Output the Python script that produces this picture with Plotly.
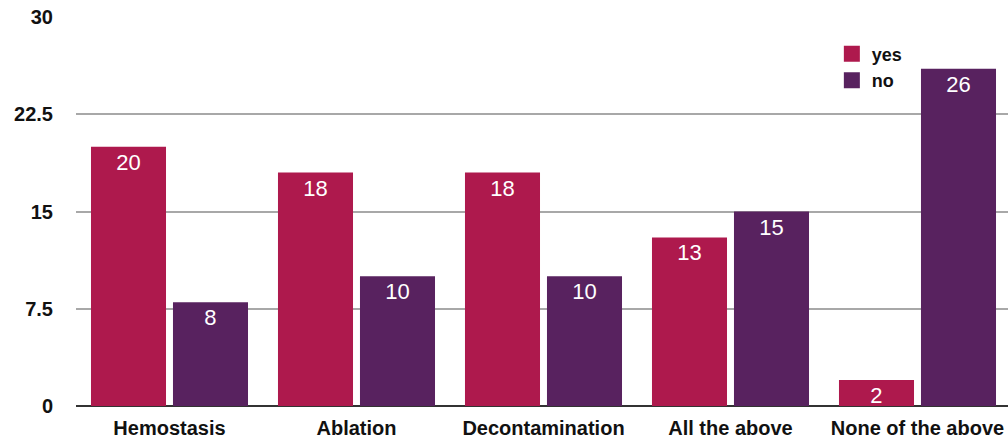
import plotly.graph_objects as go

categories = ["Hemostasis", "Ablation", "Decontamination", "All the above", "None of the above"]
yes_vals = [20, 18, 18, 13, 2]
no_vals = [8, 10, 10, 15, 26]
y_ticks = [0, 7.5, 15, 22.5, 30]
y_tick_labels = ["0", "7.5", "15", "22.5", "30"]

YES_COLOR = "#AE194D"
NO_COLOR = "#58225F"
FONT = "Liberation Sans, Arial, sans-serif"

fig = go.Figure()
for name, vals, col in [("yes", yes_vals, YES_COLOR), ("no", no_vals, NO_COLOR)]:
    fig.add_trace(go.Bar(
        name=name, x=categories, y=vals, marker=dict(color=col, line=dict(width=0)),
        text=[str(v) for v in vals], textposition="inside", insidetextanchor="end",
        constraintext="none", cliponaxis=False, textangle=0, showlegend=False,
        textfont=dict(color="white", size=22, family=FONT),
    ))
# legend entries with larger square swatches
for name, col in [("yes", YES_COLOR), ("no", NO_COLOR)]:
    fig.add_trace(go.Scatter(
        name=name, x=[None], y=[None], mode="markers",
        marker=dict(symbol="square", size=18, color=col), showlegend=True,
    ))

fig.update_layout(
    width=1008, height=445,
    margin=dict(l=76, r=0, t=17, b=39),
    paper_bgcolor="white", plot_bgcolor="white",
    barmode="group", bargap=0.123, bargroupgap=0.085,
    font=dict(family=FONT, color="#111"),
    showlegend=True,
    legend=dict(x=0.811, y=0.952, xanchor="left", yanchor="top",
                font=dict(size=18, color="#111", family=FONT, weight="bold"),
                bgcolor="rgba(0,0,0,0)", tracegroupgap=0, itemsizing="trace"),
    xaxis=dict(range=[-0.5, 4.484], showgrid=False, showline=False, ticks="",
               tickfont=dict(size=20, color="#111", weight="bold"), ticklabelstandoff=8),
    yaxis=dict(range=[0, 30], tickvals=y_ticks, ticktext=y_tick_labels,
               showgrid=True, gridcolor="#a8a8a8", gridwidth=2,
               zeroline=True, zerolinecolor="#333", zerolinewidth=2,
               showline=False, ticks="", ticklabelstandoff=22,
               tickfont=dict(size=20, color="#111", weight="bold")),
)

fig.write_html("out.html")
